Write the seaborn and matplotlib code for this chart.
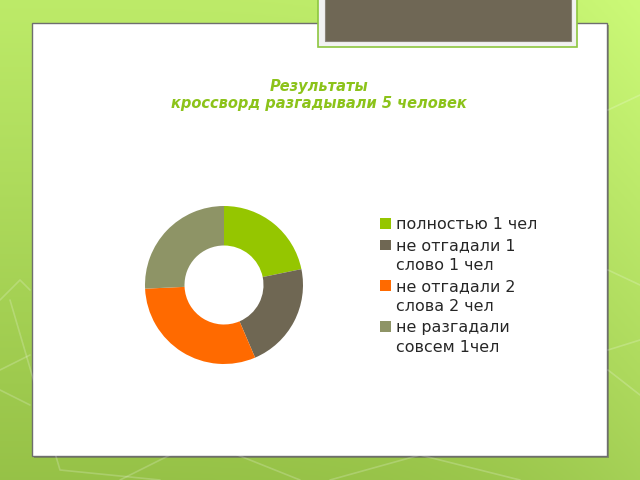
import numpy as np
import seaborn as sns
from matplotlib import pyplot as plt
from matplotlib.patches import Rectangle, Patch
from matplotlib.legend_handler import HandlerPatch

# data
labels = ['полностью 1 чел', 'не отгадали 1\nслово 1 чел',
          'не отгадали 2\nслова 2 чел', 'не разгадали\nсовсем 1чел']
shares = [22, 22, 31, 26]
colors = sns.color_palette(['#95C600', '#6F6753', '#FF6A00', '#8E9466'])
title = 'Результаты\nкроссворд разгадывали 5 человек'

sns.set_theme(style='white')
plt.rcParams['font.family'] = ['DejaVu Sans']

W, H = 640, 480
fig = plt.figure(figsize=(6.4, 4.8), dpi=100)

# green background with a soft gradient
bg = fig.add_axes([0, 0, 1, 1])
yy, xx = np.mgrid[0:1:200j, 0:1:200j]
top = np.array([0.74, 0.92, 0.41])
bot = np.array([0.59, 0.76, 0.28])
grad = top[None, None, :] * (1 - yy[..., None]) + bot[None, None, :] * yy[..., None]
grad = grad + 0.06 * xx[..., None] ** 4
bg.imshow(np.clip(grad, 0, 1), extent=[0, W, H, 0], aspect='auto')
# faint hexagon-ish lines
for pts in [[(0, 300), (20, 280), (30, 290)],
            [(0, 370), (30, 355)], [(0, 390), (30, 405)],
            [(10, 300), (60, 470), (160, 480)],
            [(120, 480), (200, 440), (300, 480)],
            [(330, 480), (420, 455), (520, 480)],
            [(608, 110), (640, 95)], [(608, 270), (640, 285)],
            [(608, 350), (640, 340)], [(608, 370), (640, 395)]]:
    px, py = zip(*pts)
    bg.plot(px, py, color='white', alpha=0.2, lw=1.2)
bg.set_xlim(0, W)
bg.set_ylim(H, 0)
bg.axis('off')

# white panel
bg.add_patch(Rectangle((34, 25), 575, 433, facecolor='#5a5a5a', alpha=0.5, lw=0))
bg.add_patch(Rectangle((32, 23), 575, 433, facecolor='white', edgecolor='#6e6e6e', lw=1))
# top box
bg.add_patch(Rectangle((318, -2), 259, 49, facecolor='#f2f2f2', edgecolor='#8DC63F', lw=1.2))
bg.add_patch(Rectangle((325, -2), 246, 43, facecolor='#6F6755', edgecolor='#8a8478', lw=0.8))

fig.text(319 / W, 1 - 95 / H, title, ha='center', va='center', fontsize=10.5,
         fontweight='bold', fontstyle='italic', color='#8CC31A', linespacing=1.15)

# donut
cx, cy, r = 224, 285, 79
ax = fig.add_axes([(cx - r) / W, (H - cy - r) / H, 2 * r / W, 2 * r / H])
ax.pie(shares, colors=colors, startangle=90, counterclock=False, radius=1,
       wedgeprops=dict(width=0.5, edgecolor='none'))
ax.set_xlim(-1, 1)
ax.set_ylim(-1, 1)
ax.axis('off')


def top_square(shift):
    # put the marker next to the first line of the label
    def make(legend, orig_handle, xdescent, ydescent, width, height, fontsize):
        return Rectangle((-xdescent, -ydescent + shift * fontsize), width, height)
    return HandlerPatch(patch_func=make)


fs = 11.4
handles = [Patch(facecolor=c, edgecolor='none') for c in colors]
hmap = {h: top_square(0.72 if '\n' in lab else 0.0) for h, lab in zip(handles, labels)}
leg = fig.legend(handles, labels, loc='upper left', bbox_to_anchor=(374 / W, 1 - 211 / H),
                 frameon=False, fontsize=fs, handlelength=0.65, handleheight=0.65,
                 handletextpad=0.35, labelspacing=0.38, borderaxespad=0, handler_map=hmap)
for t in leg.get_texts():
    t.set_color('#262626')
    t.set_linespacing(1.4)

plt.savefig('out.png', dpi=100)
